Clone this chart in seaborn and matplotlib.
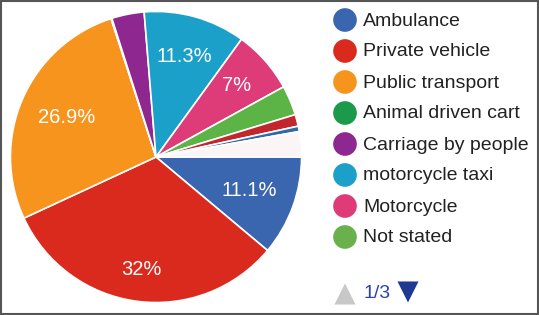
import numpy as np
import seaborn as sns
import matplotlib.pyplot as plt
from matplotlib.patches import Rectangle

# data (page 1/3 of the legend; the rest grouped as "Other")
categories = ['Ambulance', 'Private vehicle', 'Public transport', 'Animal driven cart',
              'Carriage by people', 'motorcycle taxi', 'Motorcycle', 'Not stated',
              'Other red', 'Other blue', 'Other']
shares = [11.1, 32.0, 26.9, 0.1, 3.6, 11.3, 7.0, 3.3, 1.3, 0.6, 2.8]
legend_items = categories[:8]
page_label = '1/3'

slice_colors = ['#3a66b0', '#da2a1e', '#f7941d', '#1a9a4a', '#8e278f', '#1ba1c9',
                '#dd3c78', '#5cb446', '#c4262e', '#2f6aa8', '#fbf5f5']
legend_colors = ['#3a66b0', '#da2a1e', '#f7941d', '#1a9a4a', '#8e278f', '#1ba1c9',
                 '#dd3c78', '#6ab04c']

sns.set_style('white')
plt.rcParams['font.family'] = ['Liberation Sans', 'DejaVu Sans']

fig = plt.figure(figsize=(5.39, 3.15), dpi=100)

# pie
cx, cy, r = 156, 157, 147
ax = fig.add_axes([(cx - r) / 539, (315 - cy - r) / 315, 2 * r / 539, 2 * r / 315])


def fmt(p):
    if p < 5:
        return ''
    return f'{round(p, 1):g}%'


wedges, texts, autotexts = ax.pie(shares, colors=sns.color_palette(slice_colors),
                                  startangle=0, counterclock=False, autopct=fmt,
                                  pctdistance=0.72, radius=1,
                                  wedgeprops=dict(edgecolor='white', linewidth=1.2),
                                  textprops=dict(color='white', fontsize=14.5))

# label radii as the chart places them
label_r = {0: 0.68, 1: 0.78, 2: 0.67, 5: 0.72, 6: 0.74}
for i, w in enumerate(wedges):
    if i in label_r:
        ang = np.deg2rad((w.theta1 + w.theta2) / 2)
        autotexts[i].set_position((label_r[i] * np.cos(ang), label_r[i] * np.sin(ang)))

ax.set_xlim(-1.01, 1.01)
ax.set_ylim(-1.01, 1.01)
ax.set_aspect('equal')
ax.axis('off')

# legend drawn in pixel coordinates
lax = fig.add_axes([310 / 539, 0, 229 / 539, 1])
lax.set_xlim(310, 539)
lax.set_ylim(315, 0)
lax.axis('off')
for i, (name, col) in enumerate(zip(legend_items, legend_colors)):
    y = 20 + 31 * i
    lax.scatter(345, y, s=290, color=col, edgecolor='none')
    lax.text(363, y + 1, name, fontsize=14, color='#222222', va='center', ha='left')

lax.scatter(345, 294, marker='^', s=230, color='#c8c8c8', edgecolor='none')
lax.text(363, 294, page_label, fontsize=14, color='#2a44a8', va='center', ha='left')
lax.scatter(408, 292, marker='v', s=230, color='#1f3a93', edgecolor='none')

# outer border
fig.patches.append(Rectangle((0.001, 0.002), 0.997, 0.995, transform=fig.transFigure,
                             fill=False, edgecolor='#555555', linewidth=1.5))

fig.savefig('out.png', dpi=100)
